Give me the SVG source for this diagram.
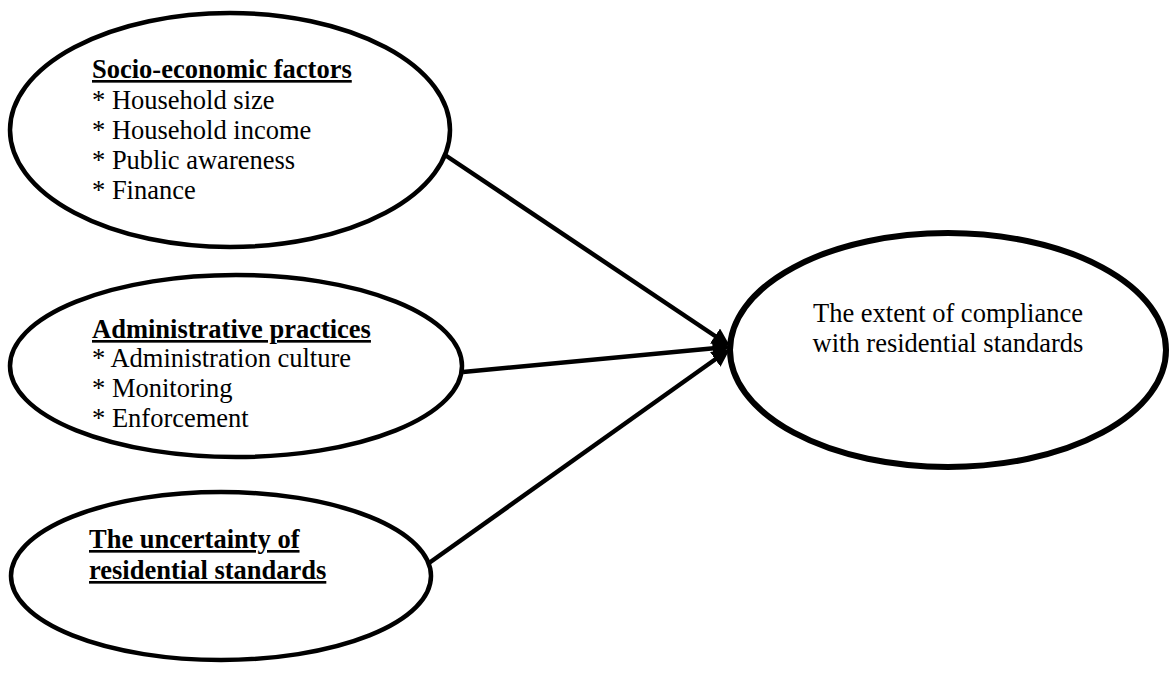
<svg xmlns="http://www.w3.org/2000/svg" width="1169" height="680" viewBox="0 0 1169 680">
<style>
.node{fill:#fff;stroke:#000;stroke-width:4.5}
.big{stroke-width:6}
text{font-family:"Liberation Serif","Times New Roman",serif;font-size:26.5px;fill:#000}
.h{font-weight:bold;text-decoration:underline}
.conn{stroke:#000;stroke-width:4.5;fill:none;marker-end:url(#ah)}
</style>
<defs>
<marker id="ah" viewBox="0 0 10 10" refX="8" refY="5" markerWidth="4" markerHeight="4" orient="auto" markerUnits="strokeWidth">
<path d="M0,0 L10,5 L0,10 z" fill="#000"/>
</marker>
</defs>
<g id="socio">
<ellipse class="node" cx="230" cy="130" rx="220" ry="117"/>
<text x="92" y="78" class="h">Socio-economic factors</text>
<text x="92" y="109">* Household size</text>
<text x="92" y="139">* Household income</text>
<text x="92" y="169">* Public awareness</text>
<text x="92" y="199">* Finance</text>
</g>
<g id="admin">
<ellipse class="node" cx="236" cy="366" rx="226" ry="91"/>
<text x="92" y="338" class="h">Administrative practices</text>
<text x="92" y="367">* Administration culture</text>
<text x="92" y="397">* Monitoring</text>
<text x="92" y="427">* Enforcement</text>
</g>
<g id="uncertainty">
<ellipse class="node" cx="221" cy="576" rx="210" ry="84"/>
<text x="89" y="548" class="h">The uncertainty of</text>
<text x="89" y="579" class="h">residential standards</text>
</g>
<g id="compliance">
<ellipse class="node big" cx="948" cy="350" rx="218" ry="117"/>
<text x="948" y="322" text-anchor="middle">The extent of compliance</text>
<text x="948" y="352" text-anchor="middle">with residential standards</text>
</g>
<g id="connectors">
<line class="conn" x1="445" y1="155" x2="727" y2="344"/>
<line class="conn" x1="463" y1="372" x2="727" y2="347"/>
<line class="conn" x1="429" y1="563" x2="727" y2="351"/>
</g>
</svg>
